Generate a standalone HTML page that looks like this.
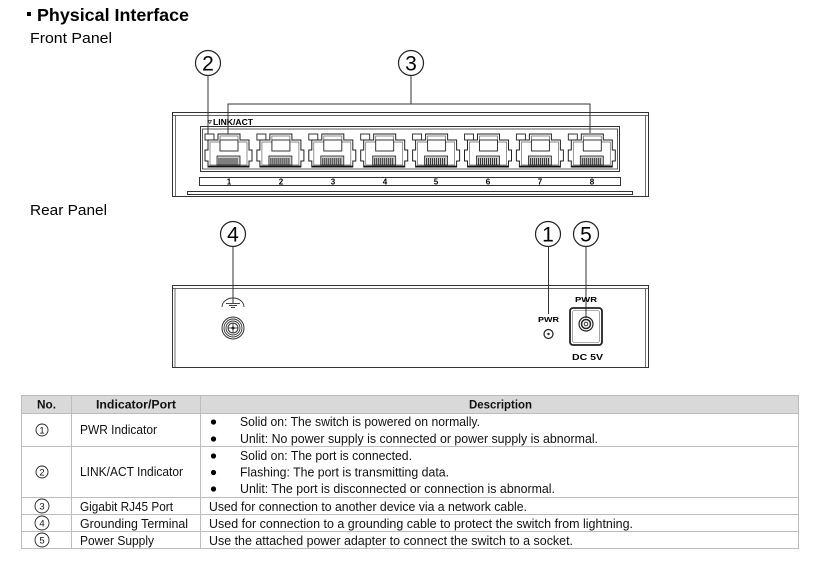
<!DOCTYPE html>
<html><head><meta charset="utf-8"><style>
html,body{margin:0;padding:0;background:#fff;}
svg{display:block;}
text{font-family:"Liberation Sans",Arial,sans-serif;}
</style></head><body>
<svg width="820" height="568" viewBox="0 0 820 568" xmlns="http://www.w3.org/2000/svg">
<defs>
<g id="port">
  <rect x="0" y="0" width="9" height="6" fill="#fff" stroke="#222" stroke-width="0.9"/>
  <path d="M3,6 H13 V0 H35 V6 H44 V16 H47 V27 H44 V33 H3 V27 H0 V16 H3 Z" fill="#fff" stroke="#222" stroke-width="1"/>
  <path d="M5,8 H15 V2 H33 V8 H42 V31 H5 Z" fill="none" stroke="#666" stroke-width="0.7"/>
  <rect x="15" y="6" width="18" height="11" fill="#fff" stroke="#222" stroke-width="0.9"/>
  <rect x="12" y="22" width="23" height="9" fill="#ccc" stroke="#222" stroke-width="0.8"/>
  <path d="M14,24V31M16,24V31M18,24V31M20,24V31M22,24V31M24,24V31M26,24V31M28,24V31M30,24V31M32,24V31" stroke="#222" stroke-width="0.9"/>
  <line x1="3" y1="32.5" x2="44" y2="32.5" stroke="#111" stroke-width="1.8"/>
</g>
</defs>

<!-- Title -->
<rect x="27" y="12" width="4" height="4" fill="#000"/>
<text x="37" y="21" font-size="17.5" font-weight="bold" textLength="152" lengthAdjust="spacingAndGlyphs">Physical Interface</text>
<text x="30" y="43" font-size="14.5" textLength="82" lengthAdjust="spacingAndGlyphs">Front Panel</text>
<text x="30" y="215" font-size="14.5" textLength="77" lengthAdjust="spacingAndGlyphs">Rear Panel</text>

<!-- Front panel callouts -->
<g fill="none" stroke="#222" stroke-width="1.2">
  <circle cx="208" cy="63" r="12.5"/>
  <circle cx="411" cy="63" r="12.5"/>
</g>
<text x="208" y="70.5" font-size="21" text-anchor="middle">2</text>
<text x="411" y="70.5" font-size="21" text-anchor="middle">3</text>
<g stroke="#333" stroke-width="1" fill="none">
  <line x1="208" y1="75.5" x2="208" y2="134"/>
  <line x1="411" y1="75.5" x2="411" y2="104"/>
  <polyline points="228,134 228,104 590,104 590,133"/>
</g>

<!-- Front panel body -->
<g fill="none" stroke="#333" stroke-width="1">
  <rect x="172.5" y="112.5" width="476" height="84"/>
  <line x1="172.5" y1="115.5" x2="648.5" y2="115.5" stroke-width="0.8"/>
  <line x1="175.5" y1="115.5" x2="175.5" y2="196" stroke-width="0.7"/>
  <line x1="645.5" y1="115.5" x2="645.5" y2="196" stroke-width="0.7"/>
  <rect x="200.5" y="126.5" width="419" height="45"/>
  <rect x="202.5" y="129" width="415" height="40" stroke-width="0.8"/>
  <rect x="199.5" y="177.5" width="421" height="8" stroke-width="1"/>
  <rect x="187.5" y="191.5" width="445" height="3" stroke-width="1"/>
</g>
<path d="M208,120.5 L211.5,120.5 L209.75,123.5 Z" fill="none" stroke="#222" stroke-width="0.7"/>
<text x="213" y="125" font-size="8" font-weight="bold" textLength="40" lengthAdjust="spacingAndGlyphs">LINK/ACT</text>

<use href="#port" x="205" y="134"/>
<use href="#port" x="256.9" y="134"/>
<use href="#port" x="308.8" y="134"/>
<use href="#port" x="360.7" y="134"/>
<use href="#port" x="412.6" y="134"/>
<use href="#port" x="464.5" y="134"/>
<use href="#port" x="516.4" y="134"/>
<use href="#port" x="568.3" y="134"/>

<g font-size="8" font-weight="bold" text-anchor="middle">
  <text x="229" y="184.5">1</text>
  <text x="281" y="184.5">2</text>
  <text x="333" y="184.5">3</text>
  <text x="385" y="184.5">4</text>
  <text x="436" y="184.5">5</text>
  <text x="488" y="184.5">6</text>
  <text x="540" y="184.5">7</text>
  <text x="592" y="184.5">8</text>
</g>

<!-- Rear panel callouts -->
<g fill="none" stroke="#222" stroke-width="1.2">
  <circle cx="233" cy="234" r="12.5"/>
  <circle cx="548" cy="234" r="12.5"/>
  <circle cx="586" cy="234" r="12.5"/>
</g>
<text x="233" y="241.5" font-size="21" text-anchor="middle">4</text>
<text x="548" y="241.5" font-size="21" text-anchor="middle">1</text>
<text x="586" y="241.5" font-size="21" text-anchor="middle">5</text>
<g stroke="#333" stroke-width="1">
  <line x1="233" y1="246.5" x2="233" y2="303"/>
  <line x1="548.5" y1="246.5" x2="548.5" y2="314"/>
  <line x1="586" y1="246.5" x2="586" y2="318"/>
</g>

<!-- Rear panel body -->
<g fill="none" stroke="#333" stroke-width="1">
  <rect x="172.5" y="285.5" width="476" height="82"/>
  <line x1="172.5" y1="288.5" x2="648.5" y2="288.5" stroke-width="0.8"/>
  <line x1="175" y1="288.5" x2="175" y2="367" stroke-width="0.7"/>
  <line x1="645.5" y1="288.5" x2="645.5" y2="367" stroke-width="0.7"/>
</g>

<!-- ground symbol -->
<g fill="none" stroke="#333" stroke-width="0.9">
  <path d="M222,307 A11,9 0 0 1 244,307"/>
  <line x1="226" y1="303.5" x2="240" y2="303.5"/>
  <line x1="229" y1="305.5" x2="237" y2="305.5"/>
  <line x1="231" y1="307.5" x2="235" y2="307.5"/>
</g>
<!-- screw -->
<g fill="none" stroke="#333">
  <circle cx="233" cy="328" r="11" stroke-width="1"/>
  <circle cx="233" cy="328" r="9" stroke-width="0.9"/>
  <circle cx="233" cy="328" r="7" stroke-width="0.9"/>
  <circle cx="233" cy="328" r="5" stroke-width="1"/>
  <line x1="228" y1="328" x2="238" y2="328" stroke-width="0.9"/>
  <line x1="233" y1="323" x2="233" y2="333" stroke-width="0.9"/>
</g>
<circle cx="233" cy="328" r="1.5" fill="#222"/>

<!-- PWR LED -->
<text x="538" y="322" font-size="7.5" font-weight="bold" textLength="21" lengthAdjust="spacingAndGlyphs">PWR</text>
<circle cx="548.5" cy="334" r="4.5" fill="#fff" stroke="#222" stroke-width="1.2"/>
<circle cx="548.5" cy="334" r="1.2" fill="#222"/>

<!-- DC jack -->
<text x="575" y="302" font-size="7.5" font-weight="bold" textLength="22" lengthAdjust="spacingAndGlyphs">PWR</text>
<rect x="570" y="308" width="32" height="37" rx="3" fill="#fff" stroke="#222" stroke-width="1.8"/>
<rect x="572.5" y="310.5" width="27" height="32" rx="2" fill="none" stroke="#666" stroke-width="0.6"/>
<line x1="586" y1="308" x2="586" y2="318" stroke="#333" stroke-width="1"/>
<circle cx="586" cy="324" r="7" fill="none" stroke="#222" stroke-width="1.2"/>
<circle cx="586" cy="324" r="4.5" fill="none" stroke="#222" stroke-width="1.5"/>
<circle cx="586" cy="324" r="1.8" fill="none" stroke="#222" stroke-width="0.9"/>
<text x="572" y="360" font-size="8" font-weight="bold" textLength="31" lengthAdjust="spacingAndGlyphs">DC  5V</text>

<!-- Table -->
<rect x="21" y="395" width="778" height="18" fill="#d9d9d9"/>
<g stroke="#bcbcbc" stroke-width="1" fill="none">
  <rect x="21.5" y="395.5" width="777" height="153"/>
  <line x1="21" y1="413.5" x2="799" y2="413.5"/>
  <line x1="21" y1="446.5" x2="799" y2="446.5"/>
  <line x1="21" y1="497.5" x2="799" y2="497.5"/>
  <line x1="21" y1="514.5" x2="799" y2="514.5"/>
  <line x1="21" y1="531.5" x2="799" y2="531.5"/>
  <line x1="71.5" y1="395" x2="71.5" y2="549"/>
  <line x1="200.5" y1="395" x2="200.5" y2="549"/>
</g>
<g font-size="12" font-weight="bold" fill="#111">
  <text x="37" y="408.5" textLength="19" lengthAdjust="spacingAndGlyphs">No.</text>
  <text x="96" y="408.5" textLength="80" lengthAdjust="spacingAndGlyphs">Indicator/Port</text>
  <text x="469" y="408.5" textLength="63" lengthAdjust="spacingAndGlyphs">Description</text>
</g>

<!-- table circled numbers -->
<g fill="none" stroke="#222" stroke-width="0.9">
  <circle cx="42" cy="430" r="6"/>
  <circle cx="42" cy="472" r="6"/>
  <circle cx="42" cy="506" r="7"/>
  <circle cx="42" cy="523" r="7"/>
  <circle cx="42" cy="540" r="7"/>
</g>
<g font-size="9.5" text-anchor="middle" fill="#111">
  <text x="42" y="433.5">1</text>
  <text x="42" y="475.5">2</text>
  <text x="42" y="509.5">3</text>
  <text x="42" y="526.5">4</text>
  <text x="42" y="543.5">5</text>
</g>

<g font-size="12.5" fill="#111">
  <text x="80" y="434" textLength="77" lengthAdjust="spacingAndGlyphs">PWR Indicator</text>
  <text x="80" y="476" textLength="103" lengthAdjust="spacingAndGlyphs">LINK/ACT Indicator</text>
  <text x="80" y="511" textLength="93" lengthAdjust="spacingAndGlyphs">Gigabit RJ45 Port</text>
  <text x="80" y="528" textLength="108" lengthAdjust="spacingAndGlyphs">Grounding Terminal</text>
  <text x="80" y="545" textLength="74" lengthAdjust="spacingAndGlyphs">Power Supply</text>

  <text x="240" y="426" textLength="240" lengthAdjust="spacingAndGlyphs">Solid on: The switch is powered on normally.</text>
  <text x="240" y="443" textLength="358" lengthAdjust="spacingAndGlyphs">Unlit: No power supply is connected or power supply is abnormal.</text>
  <text x="240" y="460" textLength="172" lengthAdjust="spacingAndGlyphs">Solid on: The port is connected.</text>
  <text x="240" y="476.5" textLength="209" lengthAdjust="spacingAndGlyphs">Flashing: The port is transmitting data.</text>
  <text x="240" y="493" textLength="315" lengthAdjust="spacingAndGlyphs">Unlit: The port is disconnected or connection is abnormal.</text>
  <text x="209" y="511" textLength="318" lengthAdjust="spacingAndGlyphs">Used for connection to another device via a network cable.</text>
  <text x="209" y="528" textLength="424" lengthAdjust="spacingAndGlyphs">Used for connection to a grounding cable to protect the switch from lightning.</text>
  <text x="209" y="545" textLength="364" lengthAdjust="spacingAndGlyphs">Use the attached power adapter to connect the switch to a socket.</text>
</g>
<g fill="#000">
  <circle cx="213.5" cy="422" r="2.6"/>
  <circle cx="213.5" cy="439" r="2.6"/>
  <circle cx="213.5" cy="456" r="2.6"/>
  <circle cx="213.5" cy="472.5" r="2.6"/>
  <circle cx="213.5" cy="489" r="2.6"/>
</g>
</svg>
</body></html>
